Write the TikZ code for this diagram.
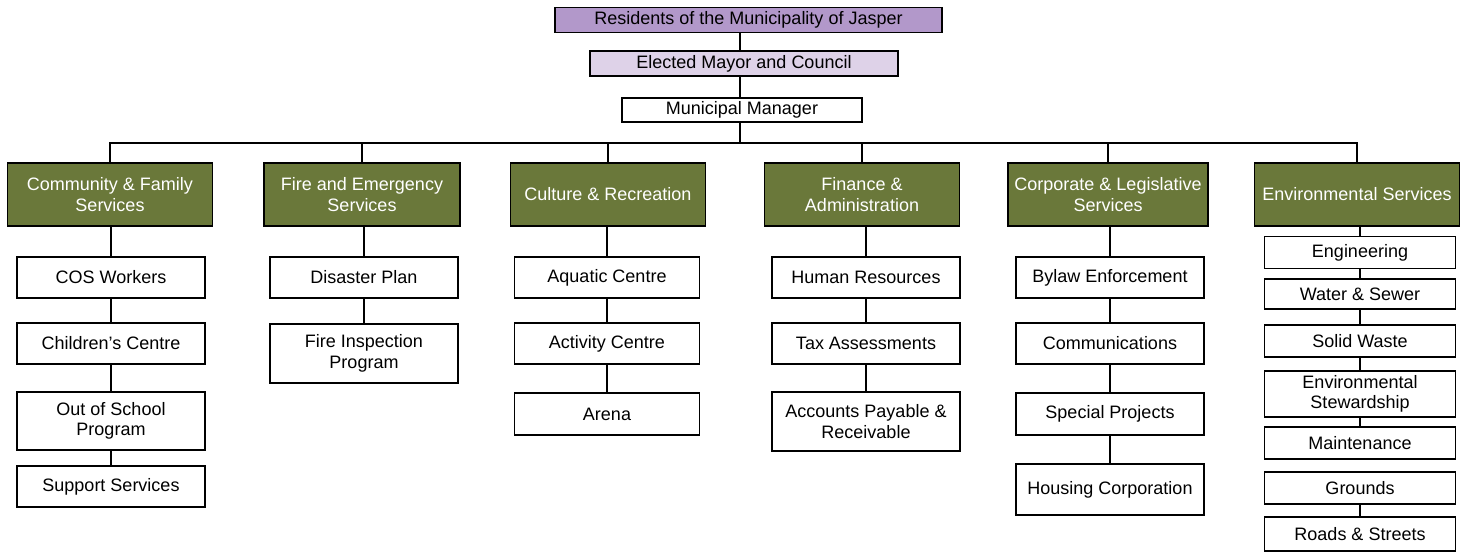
\documentclass[tikz,border=0pt]{standalone}
\usepackage{fontspec}
\setmainfont{Liberation Sans}
\usetikzlibrary{positioning}
\definecolor{residents}{RGB}{178,152,202}
\definecolor{council}{RGB}{222,210,232}
\definecolor{deptgreen}{RGB}{106,120,58}

\begin{document}
\begin{tikzpicture}[x=1pt,y=-1pt,
    box/.style={draw,line width=1.6pt,fill=white,align=center,inner sep=1pt,font=\fontsize{18}{20.5}\selectfont},
    topbox/.style={box,minimum height=25},
    dept/.style={box,fill=deptgreen,text=white,minimum height=63},
    unit/.style={box,minimum width=188,minimum height=41},
    envunit/.style={box,minimum width=191,minimum height=32}]
    \useasboundingbox (0,0) rectangle (1467,556);

    % top of the chart
    \node[topbox,fill=residents,minimum width=387] (res) at (748.5,20) {Residents of the Municipality of Jasper};
    \node[topbox,fill=council,minimum width=308] (cou) at (744,63.5) {Elected Mayor and Council};
    \node[topbox,minimum width=240,minimum height=24] (mgr) at (742,110) {Municipal Manager};
    \coordinate (bus) at (740,143);

    % departments
    \node[dept,minimum width=205] (cfs) at (110,194.5) {Community \& Family\\Services};
    \node[dept,minimum width=196] (fes) at (362,194.5) {Fire and Emergency\\Services};
    \node[dept,minimum width=195] (cur) at (608,194.5) {Culture \& Recreation};
    \node[dept,minimum width=195] (fin) at (862,194.5) {Finance \&\\Administration};
    \node[dept,minimum width=200] (cls) at (1108,194.5) {Corporate \& Legislative\\Services};
    \node[dept,minimum width=205] (env) at (1357,194.5) {Environmental Services};

    % community & family services
    \node[unit] (cos) at (111,277.5) {COS Workers};
    \node[unit] (chc) at (111,343.5) {Children's Centre};
    \node[unit,minimum height=58] (oos) at (111,421) {Out of School\\Program};
    \node[unit] (sup) at (111,486.5) {Support Services};

    % fire and emergency services
    \node[unit] (dis) at (364,277.5) {Disaster Plan};
    \node[unit,minimum height=59] (fip) at (364,353.5) {Fire Inspection\\Program};

    % culture & recreation
    \node[unit,minimum width=185] (aqu) at (607,277.5) {Aquatic Centre};
    \node[unit,minimum width=185] (act) at (607,343.5) {Activity Centre};
    \node[unit,minimum width=185,minimum height=42] (are) at (607,414) {Arena};

    % finance & administration
    \node[unit] (hum) at (866,277.5) {Human Resources};
    \node[unit] (tax) at (866,343.5) {Tax Assessments};
    \node[unit,minimum height=59] (acc) at (866,421.5) {Accounts Payable \&\\Receivable};

    % corporate & legislative services
    \node[unit] (byl) at (1110,277.5) {Bylaw Enforcement};
    \node[unit] (com) at (1110,343.5) {Communications};
    \node[unit,minimum height=42] (spe) at (1110,414) {Special Projects};
    \node[unit,minimum height=51] (hou) at (1110,489.5) {Housing Corporation};

    % environmental services
    \node[envunit] (eng) at (1360,252.5) {Engineering};
    \node[envunit,minimum height=30] (wat) at (1360,294) {Water \& Sewer};
    \node[envunit] (sol) at (1360,341) {Solid Waste};
    \node[envunit,minimum height=46] (stw) at (1360,394) {Environmental\\Stewardship};
    \node[envunit] (mai) at (1360,443) {Maintenance};
    \node[envunit] (gro) at (1360,488) {Grounds};
    \node[envunit,minimum height=34] (roa) at (1360,534) {Roads \& Streets};

    \begin{scope}[line width=1.6pt]
        \draw (res.south -| bus) -- (cou.north -| bus);
        \draw (cou.south -| bus) -- (mgr.north -| bus);
        \draw (mgr.south -| bus) -- (bus);
        \draw (cfs.north) -- (cfs.north |- bus) -- (env.north |- bus) -- (env.north);
        \draw (fes.north) -- (fes.north |- bus);
        \draw (cur.north) -- (cur.north |- bus);
        \draw (fin.north) -- (fin.north |- bus);
        \draw (cls.north) -- (cls.north |- bus);

        \draw (cos.north) -- (cos.north |- cfs.south);
        \draw (cos) -- (chc);
        \draw (chc) -- (oos);
        \draw (oos) -- (sup);

        \draw (dis.north) -- (dis.north |- fes.south);
        \draw (dis) -- (fip);

        \draw (aqu.north) -- (aqu.north |- cur.south);
        \draw (aqu) -- (act);
        \draw (act) -- (are);

        \draw (hum.north) -- (hum.north |- fin.south);
        \draw (hum) -- (tax);
        \draw (tax) -- (acc);

        \draw (byl.north) -- (byl.north |- cls.south);
        \draw (byl) -- (com);
        \draw (com) -- (spe);
        \draw (spe) -- (hou);

        \draw (eng.north) -- (eng.north |- env.south);
        \draw (eng) -- (wat);
        \draw (wat) -- (sol);
        \draw (sol) -- (stw);
        \draw (stw) -- (mai);
        \draw (gro) -- (roa);
    \end{scope}
\end{tikzpicture}
\end{document}
